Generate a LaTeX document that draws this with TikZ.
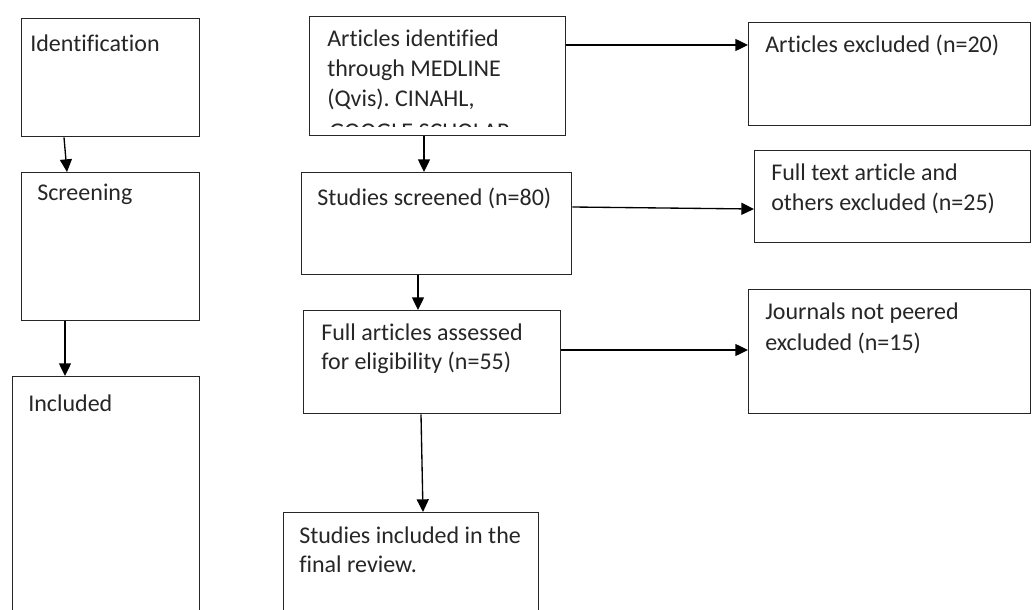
\documentclass[tikz,border=0pt]{standalone}
\usepackage{fontspec}
\setmainfont{Carlito}[Ligatures={NoCommon,NoRare,NoContextual},Contextuals=NoAlternate]
\usetikzlibrary{arrows.meta,calc}
\frenchspacing
\newcommand\tisep{t\kern0pt{}i}
\begin{document}
\begin{tikzpicture}[x=0.75pt,y=-0.75pt,
  box/.style 2 args={draw=black!85,line width=1.1pt,anchor=north west,inner sep=0pt,
    minimum width=#1*0.75pt,minimum height=#2*0.75pt},
  lbl/.style={anchor=base west,inner sep=0pt,font=\fontsize{18pt}{22.5pt}\selectfont,text=black!85},
  arr/.style={draw=black,line width=1pt,-{Triangle[length=9.5pt,width=9pt]}}]
\useasboundingbox (0,0) rectangle (1032,610);
\begin{scope}
\clip (0,0) rectangle (1032,610);
% left column
\node[box={178}{118}] (ident) at (21,18) {};
\node[box={178}{148}] (screen) at (21,172) {};
\node[box={187}{260}] (incl) at (12,376) {};
% middle column
\node[box={256}{119}] (artid) at (309,16) {};
\node[box={270}{102}] (stscr) at (301,172) {};
\node[box={257}{103}] (fullart) at (303,310) {};
\node[box={255}{120}] (stinc) at (283,512) {};
% right column
\node[box={282}{103}] (artex) at (748,22) {};
\node[box={276}{92}] (ftex) at (754,150) {};
\node[box={282}{124}] (jnex) at (748,289) {};

% texts
\node[lbl] (tid) at (30,52) {Identifica\tisep on};
\node[lbl] (tsc) at (37,200) {Screening};
\node[lbl] (tin) at (28,411) {Included};
\node[lbl] (ta1) at (327,47) {Ar\tisep cles identified};
\node[lbl] (ta2) at (327,77) {through MEDLINE};
\node[lbl] (ta3) at (327,107) {(Qvis). CINAHL,};
\begin{scope}
\clip (309,16) rectangle (565,126);
\node[lbl] (ta4) at (329,139) {GOOGLE SCHOLAR};
\end{scope}
\node[lbl] (ts1) at (317,205) {Studies screened (n=80)};
\node[lbl] (tf1) at (321,340) {Full ar\tisep cles assessed};
\node[lbl] (tf2) at (321,369) {for eligibility (n=55)};
\node[lbl] (ti1) at (299,543) {Studies included in the};
\node[lbl] (ti2) at (299,572) {final review.};
\node[lbl] (te1) at (765,53) {Ar\tisep cles excluded (n=20)};
\node[lbl] (tt1) at (771,180) {Full text ar\tisep cle and};
\node[lbl] (tt2) at (771,210) {others excluded (n=25)};
\node[lbl] (tj1) at (765,319) {Journals not peered};
\node[lbl] (tj2) at (765,350) {excluded (n=15)};

% arrows
\draw[arr] ($(ident.south west)+(43,0)$) -- ($(screen.north west)+(46,0)$);
\draw[arr] ($(screen.south west)+(44,0)$) -- ($(incl.north west)+(53,0)$);
\draw[arr] ($(artid.north east)+(0,29)$) -- ($(artex.north west)+(0,23)$);
\draw[arr] ($(artid.south west)+(115,0)$) -- ($(stscr.north west)+(123,0)$);
\draw[arr] ($(stscr.north east)+(0,35)$) -- ($(ftex.north west)+(0,59)$);
\draw[arr] ($(stscr.south west)+(117,0)$) -- ($(fullart.north west)+(115,0)$);
\draw[arr] ($(fullart.north east)+(0,40)$) -- ($(jnex.north west)+(0,61)$);
\draw[arr] ($(fullart.south west)+(118,0)$) -- ($(stinc.north west)+(140,0)$);
\end{scope}
\end{tikzpicture}
\end{document}
